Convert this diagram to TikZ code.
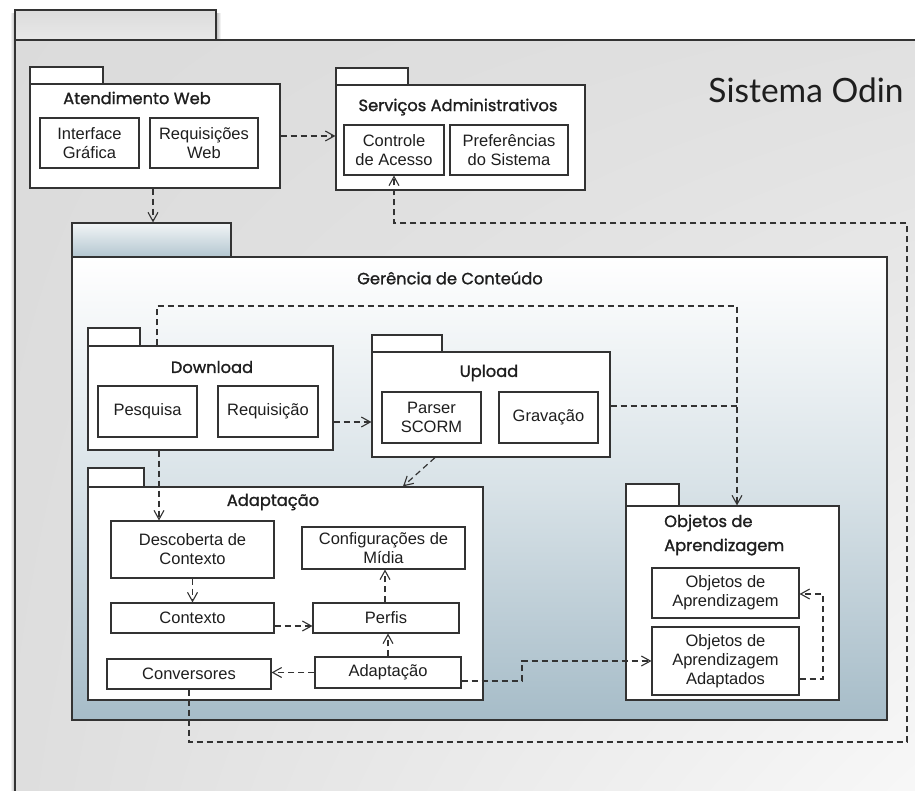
\documentclass[tikz,border=0pt]{standalone}
\usepackage{fontspec}
\setmainfont{Liberation Sans}
\newfontfamily\pkgfont{Poppins}[BoldFont=Poppins, BoldFeatures={FakeBold=1.3}]
\newfontfamily\odinfont{Lato}
\usetikzlibrary{arrows.meta,shadings}
\definecolor{lineclr}{HTML}{333333}
\definecolor{txtclr}{HTML}{1E1E1E}
\definecolor{tabtop}{HTML}{F2F5F6}
\definecolor{tabbot}{HTML}{B3C6D0}
\definecolor{gcbot}{HTML}{A6BCC8}
\definecolor{gcmid}{HTML}{D8E2E7}
\begin{document}
\begin{tikzpicture}[x=1pt,y=-1pt,
  pkg/.style={draw=lineclr, line width=1.2pt, fill=white, inner sep=0pt},
  box/.style={draw=lineclr, line width=1.1pt, fill=white, inner sep=0pt, align=center,
    font=\fontsize{16.5}{19}\selectfont, text=txtclr},
  ptitle/.style={font=\pkgfont\bfseries\fontsize{16.3}{24}\selectfont, text=txtclr, inner sep=0pt},
  depl/.style={draw=lineclr, line width=1.2pt, dash pattern=on 6pt off 4pt},
  dep/.style={depl, -{Straight Barb[length=9pt,width=10pt,line width=1.1pt]}}]
\useasboundingbox (0,0) rectangle (915,791);

% outer package "Sistema Odin"
\shade[left color=white, right color=black!28] (10,14) rectangle (15,791);
\shade[left color=black!28, right color=white] (216,14) rectangle (221,40);
\shade[upper left=black!14, upper right=black!12, lower left=black!13, lower right=black!3] (15,40) rectangle (915,791);
\shade[top color=black!14, bottom color=black!9] (15,10) rectangle (216,40);
\draw[lineclr, line width=1.3pt] (915,40) -- (15,40) -- (15,791);
\draw[lineclr, line width=1.3pt] (15,40) -- (15,10) -- (216,10) -- (216,40);
\node[font=\odinfont\fontsize{33.5}{34}\selectfont, text=txtclr, inner sep=0pt] (odin) at (806,90) {Sistema Odin};

% Atendimento Web
\node[pkg, minimum width=73, minimum height=17] (awtab) at (66.5,75.5) {};
\node[pkg, minimum width=250, minimum height=104] (aw) at (155,136) {};
\node[ptitle] (awt) at (137,98) {Atendimento Web};
\node[box, minimum width=99, minimum height=50] (ig) at (89.5,143) {Interface\\Gráfica};
\node[box, minimum width=108, minimum height=50] (rw) at (204,143) {Requisições\\Web};

% Servicos Administrativos
\node[pkg, minimum width=72, minimum height=17] (satab) at (372,76.5) {};
\node[pkg, minimum width=249, minimum height=105] (sa) at (460.5,137.5) {};
\node[ptitle] (sat) at (458,107) {Serviços Administrativos};
\node[box, minimum width=100, minimum height=50] (ca) at (394,150) {Controle\\de Acesso};
\node[box, minimum width=118, minimum height=50] (ps) at (509,150) {Preferências\\do Sistema};

% Gerencia de Conteudo
\node[draw=lineclr, line width=1.2pt, inner sep=0pt, top color=tabtop, bottom color=tabbot,
  minimum width=159, minimum height=34] (gctab) at (151.5,240) {};
\node[draw=lineclr, line width=1.2pt, inner sep=0pt, top color=white, bottom color=gcbot,
  middle color=gcmid, minimum width=815, minimum height=463] (gc) at (479.5,488.5) {};
\node[ptitle] (gct) at (450,278) {Gerência de Conteúdo};

% Download
\node[pkg, minimum width=52, minimum height=18] (dltab) at (114,337) {};
\node[pkg, minimum width=245, minimum height=104] (dl) at (210.5,398) {};
\node[ptitle] (dlt) at (212,367) {Download};
\node[box, minimum width=99, minimum height=51] (pq) at (147.5,411.5) {Pesquisa};
\node[box, minimum width=100, minimum height=51] (rq) at (268,411.5) {Requisição};

% Upload
\node[pkg, minimum width=70, minimum height=17] (ultab) at (407,343.5) {};
\node[pkg, minimum width=238, minimum height=105] (ul) at (491,404.5) {};
\node[ptitle] (ult) at (489,373) {Upload};
\node[box, minimum width=99, minimum height=51] (sc) at (431.5,417.5) {Parser\\SCORM};
\node[box, minimum width=99, minimum height=51] (gv) at (548.5,417.5) {Gravação};

% Adaptacao
\node[pkg, minimum width=56, minimum height=19] (adtab) at (116,477.5) {};
\node[pkg, minimum width=395, minimum height=213] (ad) at (285.5,593.5) {};
\node[ptitle] (adt) at (273,502) {Adaptação};
\node[box, minimum width=163, minimum height=57] (desc) at (192.5,549.5) {Descoberta de\\Contexto};
\node[box, minimum width=163, minimum height=42] (cfg) at (383.5,548) {Configurações de\\Mídia};
\node[box, minimum width=163, minimum height=30] (ctx) at (192.5,618) {Contexto};
\node[box, minimum width=146, minimum height=30] (perf) at (386,618) {Perfis};
\node[box, minimum width=164, minimum height=30] (conv) at (189,674) {Conversores};
\node[box, minimum width=146, minimum height=31] (adi) at (388,672.5) {Adaptação};

% Objetos de Aprendizagem
\node[pkg, minimum width=53, minimum height=22] (oatab) at (652.5,495) {};
\node[pkg, minimum width=213, minimum height=194] (oa) at (732.5,603) {};
\node[ptitle, align=left, anchor=west] (oat) at (664,535) {Objetos de\\Aprendizagem};
\node[box, minimum width=147, minimum height=50] (oa1) at (725.5,593) {Objetos de\\Aprendizagem};
\node[box, minimum width=147, minimum height=68] (oa2) at (725.5,661) {Objetos de\\Aprendizagem\\Adaptados};

% connectors
\coordinate (kAW) at (0,136);
\draw[dep] (aw.east |- kAW) -- (sa.west |- kAW);
\draw[dep] ([xshift=-2pt]aw.south) -- ([xshift=-2pt]aw.south |- gctab.north);

\coordinate (c1) at (907,742);
\coordinate (c2) at (907,223);
\draw[dep] (conv.south) |- (c1) -- (c2) -| (ca.south);

\coordinate (d1) at (157,306);
\coordinate (d2) at (737,306);
\draw[dep] (dl.north -| d1) -- (d1) -- (d2) -- (d2 |- oa.north);
\coordinate (u1) at (737,406);
\draw[depl] (ul.east |- u1) -- (u1);

\coordinate (kDU) at (0,422);
\draw[dep] (dl.east |- kDU) -- (ul.west |- kDU);
\draw[dep] ([xshift=-56pt]ul.south) -- ([xshift=117.5pt]ad.north);
\coordinate (kDD) at (159,0);
\draw[dep] (kDD |- dl.south) -- (kDD |- desc.north);

\draw[dep] (desc.south) -- (ctx.north);
\draw[dep] ([yshift=-8pt]ctx.east) -- ([yshift=-8pt]ctx.east -| perf.west);
\draw[dep] ([xshift=-1pt]perf.north) -- ([xshift=-1pt]perf.north |- cfg.south);
\draw[dep] (adi.north) -- (adi.north |- perf.south);
\draw[dep] (adi.west) -- (adi.west -| conv.east);
\coordinate (a1) at (522,681);
\draw[dep] (adi.east |- a1) -- (a1) |- (oa2.west);
\coordinate (o1) at (823,679);
\coordinate (o2) at (823,594);
\draw[dep] (oa2.east |- o1) -- (o1) -- (o2) -- (o2 -| oa1.east);
\end{tikzpicture}
\end{document}
